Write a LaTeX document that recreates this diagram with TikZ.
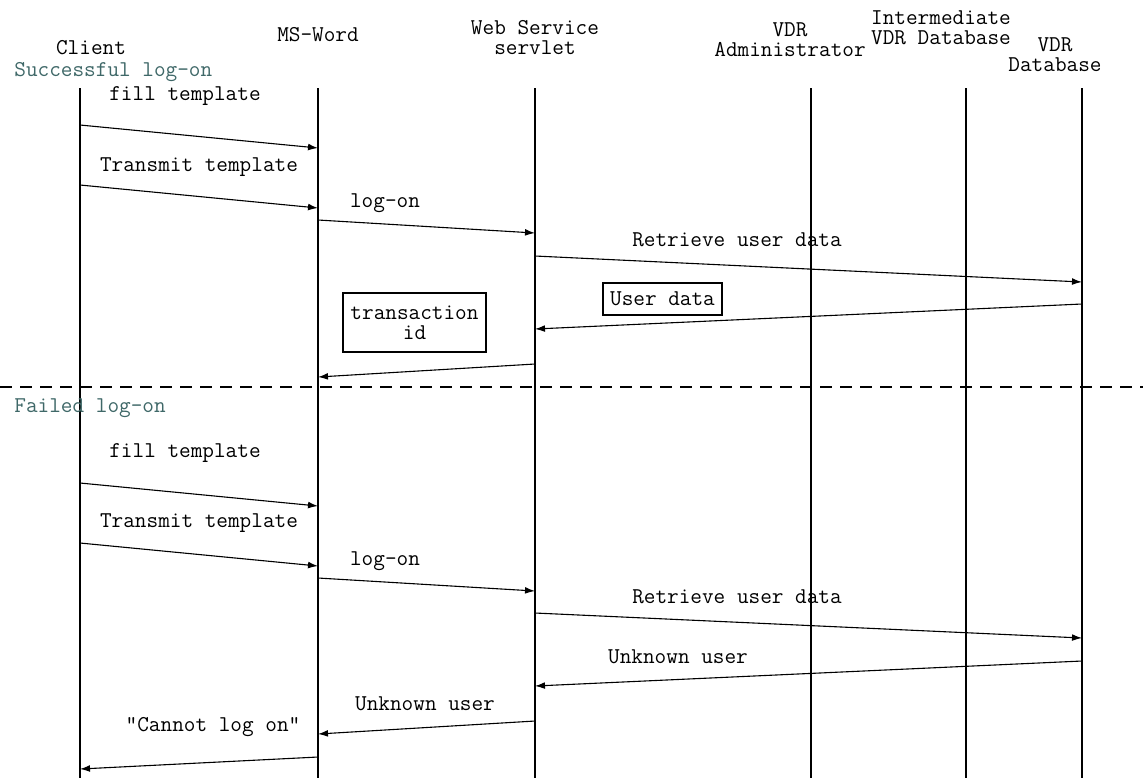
\documentclass[tikz,border=0pt]{standalone}
\usetikzlibrary{arrows.meta}
\definecolor{phasecol}{HTML}{3F6868}
\tikzset{
    lifeline/.style={line width=0.55pt},
    msg/.style={line width=0.55pt,-{Latex[length=5pt,width=3.4pt]}},
    txt/.style={font=\ttfamily\fontsize{11.3}{10}\selectfont,inner sep=0pt,align=center},
    phase/.style={txt,text=phasecol,anchor=west},
    notebox/.style={txt,draw,line width=0.55pt},
}

\begin{document}
\begin{tikzpicture}[x=0.5pt,y=-0.5pt]
    \useasboundingbox (0,0) rectangle (1143,783);

    % Heads
    \node[txt] (h-cl)  at (91,48)  {Client};
    \node[txt] (h-ms)  at (318,35) {MS-Word};
    \node[txt] (h-ws)  at (535,38) {Web Service\\servlet};
    \node[txt] (h-adm) at (790,40) {VDR\\Administrator};
    \node[txt] (h-imd) at (941,28) {Intermediate\\VDR Database};
    \node[txt] (h-db)  at (1055,55) {VDR\\Database};

    % Lifelines
    \foreach \n/\x in {cl/80,ms/318,ws/535,adm/811,imd/966,db/1082}
    {
    \coordinate (\n-top) at (\x,88);
    \coordinate (\n-bot) at (\x,778);
    \draw[lifeline] (\n-top) -- (\n-bot);
    }

    % Successful log-on
    \node[phase] (p-ok) at (14,72) {Successful log-on};

    \draw[msg] (cl-top |- 0,125) -- (ms-top |- 0,148);
    \node[txt] (l-fill1) at (185,96) {fill template};
    \draw[msg] (cl-top |- 0,185) -- (ms-top |- 0,208);
    \node[txt] (l-trans1) at (199,167) {Transmit template};
    \draw[msg] (ms-top |- 0,220) -- (ws-top |- 0,233);
    \node[txt] (l-log1) at (385,203) {log-on};
    \draw[msg] (ws-top |- 0,256) -- (db-top |- 0,282);
    \node[txt] (l-ret1) at (737,240) {Retrieve user data};
    \draw[msg] (db-top |- 0,304) -- (ws-top |- 0,329);
    \node[notebox,minimum width=59.5pt,minimum height=16pt] (b-data) at (662.5,299) {User data};
    \draw[msg] (ws-top |- 0,364) -- (ms-top |- 0,377);
    \node[notebox,minimum width=71.5pt,minimum height=29.5pt] (b-tid) at (414.5,322.5) {transaction\\id};

    % Separator
    \coordinate (sep-l) at (0,387);
    \coordinate (sep-r) at (1143,387);
    \draw[line width=0.55pt,dash pattern=on 6pt off 4pt] (sep-l) -- (sep-r);

    % Failed log-on
    \node[phase] (p-fail) at (14,408) {Failed log-on};

    \draw[msg] (cl-top |- 0,483) -- (ms-top |- 0,506);
    \node[txt] (l-fill2) at (185,453) {fill template};
    \draw[msg] (cl-top |- 0,543) -- (ms-top |- 0,566);
    \node[txt] (l-trans2) at (199,523) {Transmit template};
    \draw[msg] (ms-top |- 0,578) -- (ws-top |- 0,591);
    \node[txt] (l-log2) at (385,561) {log-on};
    \draw[msg] (ws-top |- 0,613) -- (db-top |- 0,638);
    \node[txt] (l-ret2) at (737,597) {Retrieve user data};
    \draw[msg] (db-top |- 0,661) -- (ws-top |- 0,686);
    \node[txt] (l-unk1) at (678,657) {Unknown user};
    \draw[msg] (ws-top |- 0,721) -- (ms-top |- 0,734);
    \node[txt] (l-unk2) at (425,704) {Unknown user};
    \draw[msg] (ms-top |- 0,757) -- (cl-top |- 0,769);
    \node[txt] (l-cant) at (213,727) {"Cannot log on"};

\end{tikzpicture}
\end{document}
